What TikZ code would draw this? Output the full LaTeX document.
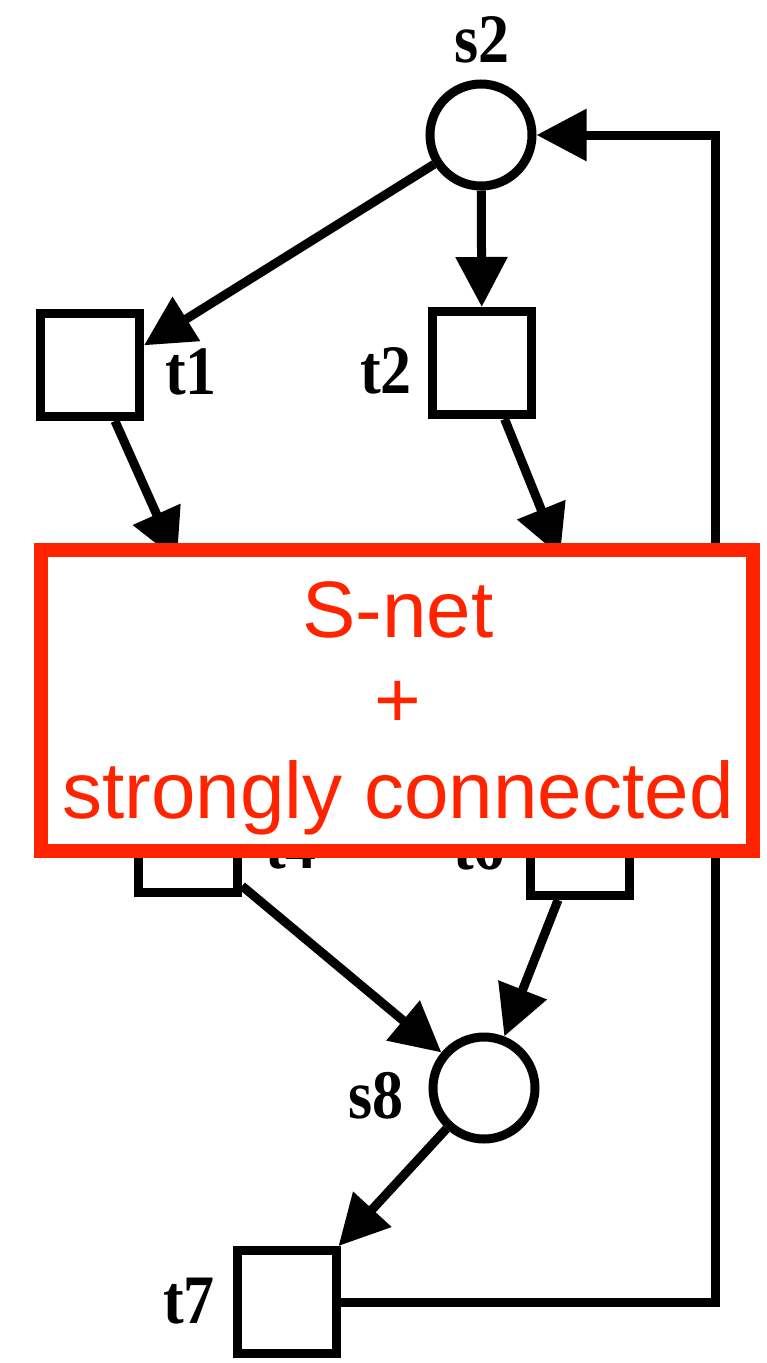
\documentclass[tikz,border=0pt]{standalone}
\usepackage{fontspec}
\setmainfont{Liberation Serif}
\newfontfamily\notefont{Liberation Sans}
\usetikzlibrary{arrows.meta}
\definecolor{notered}{RGB}{255,35,0}
\tikzset{
  place/.style={circle,draw=black,line width=9pt,minimum size=102pt,inner sep=0pt},
  trans/.style={rectangle,draw=black,line width=9pt,minimum width=99pt,minimum height=103pt,inner sep=0pt},
  flow/.style={line width=9pt,-{Triangle[length=50pt,width=50pt]}},
  netlabel/.style={font=\fontsize{62}{62}\selectfont\bfseries,inner sep=0pt,yscale=1.12,transform shape},
}
\begin{document}
\begin{tikzpicture}[x=1pt,y=-1pt]
    \useasboundingbox (0,0) rectangle (766,1363);

    % places
    \node[place] (s2) at (481,135) {};
    \node[place] (s8) at (484,1088) {};

    % transitions
    \node[trans] (t1) at (90,365) {};
    \node[trans] (t2) at (482,363) {};
    \node[trans] (t4) at (188,841) {};
    \node[trans] (t6) at (580,844) {};
    \node[trans] (t7) at (287,1302) {};

    % labels
    \node[netlabel,anchor=base] (ls2) at (482,62) {s2};
    \node[netlabel,anchor=base west] (lt1) at (165,394) {t1};
    \node[netlabel,anchor=base east] (lt2) at (412,393) {t2};
    \node[netlabel,anchor=base west] (lt4) at (265,868) {t4};
    \node[netlabel,anchor=base east] (lt6) at (505,869) {t6};
    \node[netlabel,anchor=base east] (ls8) at (404,1118) {s8};
    \node[netlabel,anchor=base east] (lt7) at (215,1323) {t7};

    % arcs
    \coordinate (p3) at (177,560);
    \coordinate (p4) at (560,556);
    \coordinate (ret) at (715,700);
    \draw[flow] (s2) -- (t1.20);
    \draw[flow] (s2) -- (t2);
    \draw[flow] (t1) -- (p3);
    \draw[flow] (t2) -- (p4);
    \draw[flow] (t4) -- (s8);
    \draw[flow] (t6) -- (s8);
    \draw[flow] (s8) -- (t7);
    \draw[flow] (t7.east) -| (ret) |- (s2.east);

    % note on top
    \node[draw=notered,line width=14pt,fill=white,minimum width=712pt,minimum height=301pt] (frame) at (397,700.5) {};
    \node[font=\notefont\fontsize{80}{90.5}\selectfont,text=notered,align=center] (note) at (398,708) {S-net\\+\\strongly connected};
\end{tikzpicture}
\end{document}
